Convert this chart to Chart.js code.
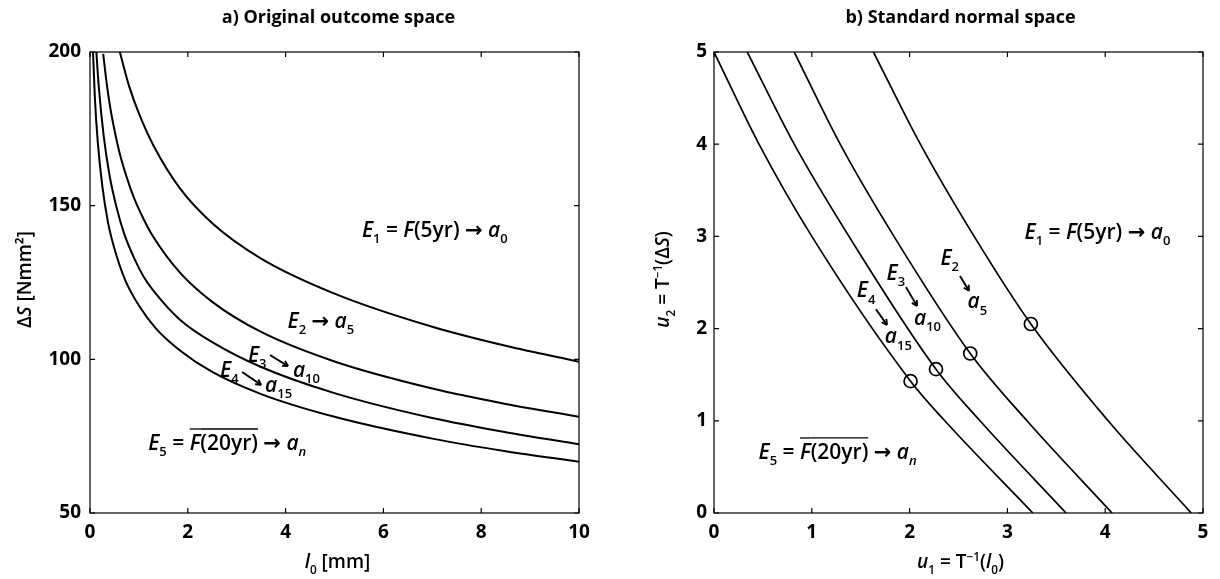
<!DOCTYPE html>
<html>
<head>
<meta charset="utf-8">
<script src="https://cdn.jsdelivr.net/npm/chart.js@4.4.0/dist/chart.umd.min.js"></script>
<style>
  html, body { margin: 0; padding: 0; background: #fff; }
  #wrap { position: relative; width: 1220px; height: 579px; }
  #wrap canvas { position: absolute; top: 0; }
  #left-chart { left: 0; }
  #right-chart { left: 610px; }
</style>
</head>
<body>
<div id="wrap">
  <canvas id="left-chart" width="610" height="579"></canvas>
  <canvas id="right-chart" width="610" height="579"></canvas>
</div>
<script>
// a) original outcome space: l0 [mm] vs dS [Nmm2], one curve per event boundary
const l0Curve1 = [0.61, 0.8, 1.0, 1.3, 1.84, 2.5, 3.5, 5, 7, 8.5, 10];
const dSCurve1 = [200, 188.9, 180, 169.5, 155.6, 144.3, 132.8, 121.4, 110.6, 104.4, 99.2];
const l0Curve2 = [0.27, 0.33, 0.4, 0.5, 0.6, 0.75, 0.9, 1.1, 1.3, 1.84, 2.5, 3.5, 5, 7, 8.5, 10];
const dSCurve2 = [199.4, 191.2, 183.3, 174.6, 167.5, 159.3, 152.5, 145.5, 139.7, 128.2, 118.7, 108.9, 99.3, 90.5, 85.5, 81.3];
const l0Curve3 = [0.13, 0.18, 0.28, 0.4, 0.55, 0.7, 0.9, 1.1, 1.3, 1.84, 2.5, 3.5, 5, 7, 8.5, 10];
const dSCurve3 = [200, 188.6, 172.7, 159.8, 149, 140.8, 133, 126.8, 122.3, 112.9, 105.6, 97.5, 89, 80.9, 76.3, 72.4];
const l0Curve4 = [0.062, 0.1, 0.16, 0.25, 0.37, 0.5, 0.72, 1.0, 1.35, 1.84, 2.5, 3.5, 5, 7, 8.5, 10];
const dSCurve4 = [200, 185, 170.5, 156.6, 144.4, 136, 125.8, 117.5, 110, 102.9, 95.9, 88.7, 81.3, 74.2, 70.1, 66.7];

// b) standard normal space: u1 vs u2
const u1Curve1 = [1.63, 2.11, 2.66, 3.24, 4.03, 4.88];
const u2Curve1 = [5, 4, 3, 2.05, 1, 0];
const u1Curve2 = [0.82, 1.29, 1.84, 2.62, 3.2, 4.07];
const u2Curve2 = [5, 4, 3, 1.73, 1, 0];
const u1Curve3 = [0.34, 0.82, 1.38, 2.27, 2.72, 3.6];
const u2Curve3 = [5, 4, 3, 1.56, 1, 0];
const u1Curve4 = [0, 0.46, 1.0, 2.01, 2.36, 3.26];
const u2Curve4 = [5, 4, 3, 1.43, 1, 0];
// design points (circles)
const u1Points = [3.24, 2.62, 2.27, 2.01];
const u2Points = [2.05, 1.73, 1.56, 1.43];

const leftTicksX = [0, 2, 4, 6, 8, 10];
const leftTicksY = [50, 100, 150, 200];
const rightTicks = [0, 1, 2, 3, 4, 5];

const FONT = '"Open Sans", "DejaVu Sans", sans-serif';

function toXY(xs, ys) {
  return xs.map((x, i) => ({ x: x, y: ys[i] }));
}

function curve(xs, ys, width) {
  return {
    data: toXY(xs, ys),
    showLine: true,
    borderColor: '#000',
    borderWidth: width,
    pointRadius: 0,
    cubicInterpolationMode: 'monotone',
    fill: false
  };
}

// draw a string made of styled pieces (italic, subscript, overline)
function drawRich(ctx, segs, x, y, size, align, weight) {
  let total = 0;
  const parts = segs.map(s => {
    const small = s.sub || s.sup;
    const fs = small ? size * 0.62 : size;
    const font = (s.it ? 'italic ' : '') + weight + ' ' + fs + 'px ' + FONT;
    ctx.font = font;
    const w = ctx.measureText(s.t).width;
    total += w;
    return { s: s, font: font, w: w, dy: s.sub ? size * 0.3 : (s.sup ? -size * 0.38 : 0) };
  });
  let cx = align === 'center' ? x - total / 2 : x;
  parts.forEach(p => {
    ctx.font = p.font;
    ctx.fillText(p.s.t, cx, y + p.dy);
    if (p.s.over) {
      ctx.beginPath();
      ctx.lineWidth = 1.3;
      ctx.moveTo(cx, y - size * 1.0);
      ctx.lineTo(cx + p.w, y - size * 1.0);
      ctx.stroke();
    }
    cx += p.w;
  });
}

function drawArrow(ctx, x1, y1, x2, y2) {
  const ang = Math.atan2(y2 - y1, x2 - x1);
  ctx.beginPath();
  ctx.lineWidth = 1.9;
  ctx.moveTo(x1, y1);
  ctx.lineTo(x2, y2);
  ctx.stroke();
  const h = 6;
  ctx.beginPath();
  ctx.moveTo(x2, y2);
  ctx.lineTo(x2 - h * Math.cos(ang - 0.5), y2 - h * Math.sin(ang - 0.5));
  ctx.moveTo(x2, y2);
  ctx.lineTo(x2 - h * Math.cos(ang + 0.5), y2 - h * Math.sin(ang + 0.5));
  ctx.stroke();
}

const E = n => [{ t: 'E', it: true }, { t: n, sub: true }];
const A = n => [{ t: 'a', it: true }, { t: n, sub: true, it: n === 'n' }];
const ARROW = [{ t: ' \u2192 ' }];
const E1TEXT = [...E('1'), { t: ' = ' }, { t: 'F', it: true }, { t: '(5yr)' }, ...ARROW, ...A('0')];
const E5TEXT = [...E('5'), { t: ' = ' }, { t: 'F', it: true, over: true }, { t: '(20yr)', over: true }, ...ARROW, ...A('n')];

// box with inward ticks on all four sides, titles and text labels
const framePlugin = {
  id: 'frame',
  afterDraw(chart) {
    const ctx = chart.ctx;
    const a = chart.chartArea;
    const xs = chart.scales.x;
    const ys = chart.scales.y;
    const cfg = chart.options.plugins.frame;
    ctx.save();
    ctx.strokeStyle = '#000';
    ctx.fillStyle = '#000';
    ctx.lineWidth = 1.2;
    ctx.strokeRect(a.left, a.top, a.right - a.left, a.bottom - a.top);
    const tl = 5;
    ctx.beginPath();
    xs.ticks.forEach(t => {
      const px = xs.getPixelForValue(t.value);
      ctx.moveTo(px, a.bottom); ctx.lineTo(px, a.bottom - tl);
      ctx.moveTo(px, a.top); ctx.lineTo(px, a.top + tl);
    });
    ys.ticks.forEach(t => {
      const py = ys.getPixelForValue(t.value);
      ctx.moveTo(a.left, py); ctx.lineTo(a.left + tl, py);
      ctx.moveTo(a.right, py); ctx.lineTo(a.right - tl, py);
    });
    ctx.stroke();

    ctx.textBaseline = 'alphabetic';
    const mid = (a.left + a.right) / 2;
    ctx.font = '700 18px ' + FONT;
    ctx.textAlign = 'center';
    ctx.fillText(cfg.title, mid + cfg.titleShift, 23);
    ctx.textAlign = 'left';

    drawRich(ctx, cfg.xTitle, mid + cfg.xTitleShift, 568, 19, 'center', 600);
    ctx.save();
    ctx.translate(cfg.yTitleX, (a.top + a.bottom) / 2 - 3);
    ctx.rotate(-Math.PI / 2);
    drawRich(ctx, cfg.yTitle, 0, 0, 19, 'center', 600);
    ctx.restore();

    cfg.texts.forEach(tx => {
      drawRich(ctx, tx.segs, xs.getPixelForValue(tx.x), ys.getPixelForValue(tx.y), 21, 'left', 600);
    });
    cfg.arrows.forEach(ar => {
      drawArrow(ctx, xs.getPixelForValue(ar[0]), ys.getPixelForValue(ar[1]),
        xs.getPixelForValue(ar[2]), ys.getPixelForValue(ar[3]));
    });
    ctx.restore();
  }
};

function axis(min, max, ticks, boxSize, pad) {
  return {
    type: 'linear',
    min: min,
    max: max,
    afterBuildTicks: s => { s.ticks = ticks.map(v => ({ value: v })); },
    ticks: { color: '#000', padding: pad, font: { family: FONT, size: 19, weight: '700' } },
    grid: { display: false, drawTicks: false },
    border: { display: false },
    afterFit: s => {
      if (s.isHorizontal()) s.height = boxSize; else s.width = boxSize;
    }
  };
}

new Chart(document.getElementById('left-chart'), {
  type: 'scatter',
  data: {
    datasets: [
      curve(l0Curve1, dSCurve1, 2),
      curve(l0Curve2, dSCurve2, 2),
      curve(l0Curve3, dSCurve3, 2),
      curve(l0Curve4, dSCurve4, 2)
    ]
  },
  options: {
    responsive: false,
    animation: false,
    layout: { padding: { top: 52, right: 31, left: 0, bottom: 0 } },
    scales: {
      x: axis(0, 10, leftTicksX, 66, 8),
      y: axis(50, 200, leftTicksY, 90, 9)
    },
    plugins: {
      legend: { display: false },
      tooltip: { enabled: false },
      frame: {
        title: 'a) Original outcome space',
        titleShift: 4,
        xTitle: [{ t: 'l', it: true }, { t: '0', sub: true }, { t: ' [mm]' }],
        xTitleShift: 3,
        yTitle: [{ t: '\u0394' }, { t: 'S', it: true }, { t: ' [Nmm\u00b2]' }],
        yTitleX: 31,
        texts: [
          { segs: E1TEXT, x: 5.56, y: 139.8 },
          { segs: [...E('2'), ...ARROW, ...A('5')], x: 4.04, y: 110.2 },
          { segs: E('3'), x: 3.23, y: 99.1 },
          { segs: A('10'), x: 4.15, y: 94.3 },
          { segs: E('4'), x: 2.66, y: 94.3 },
          { segs: A('15'), x: 3.58, y: 89.4 },
          { segs: E5TEXT, x: 1.19, y: 70.5 }
        ],
        arrows: [
          [3.68, 101.4, 4.05, 97.8],
          [3.11, 95.9, 3.5, 91.7]
        ]
      }
    }
  },
  plugins: [framePlugin]
});

new Chart(document.getElementById('right-chart'), {
  type: 'scatter',
  data: {
    datasets: [
      curve(u1Curve1, u2Curve1, 1.7),
      curve(u1Curve2, u2Curve2, 1.7),
      curve(u1Curve3, u2Curve3, 1.7),
      curve(u1Curve4, u2Curve4, 1.7),
      {
        data: toXY(u1Points, u2Points),
        showLine: false,
        pointStyle: 'circle',
        pointRadius: 6.5,
        pointBorderWidth: 1.7,
        pointBorderColor: '#000',
        pointBackgroundColor: 'rgba(0,0,0,0)'
      }
    ]
  },
  options: {
    responsive: false,
    animation: false,
    layout: { padding: { top: 52, right: 17, left: 0, bottom: 0 } },
    scales: {
      x: axis(0, 5, rightTicks, 66, 8),
      y: axis(0, 5, rightTicks, 104, 7)
    },
    plugins: {
      legend: { display: false },
      tooltip: { enabled: false },
      frame: {
        title: 'b) Standard normal space',
        titleShift: 2,
        xTitle: [{ t: 'u', it: true }, { t: '1', sub: true }, { t: ' = T' }, { t: '\u22121', sup: true },
          { t: '(' }, { t: 'l', it: true }, { t: '0', sub: true }, { t: ')' }],
        xTitleShift: 2,
        yTitle: [{ t: 'u', it: true }, { t: '2', sub: true }, { t: ' = T' }, { t: '\u22121', sup: true },
          { t: '(\u0394' }, { t: 'S', it: true }, { t: ')' }],
        yTitleX: 59,
        texts: [
          { segs: E1TEXT, x: 3.175, y: 2.97 },
          { segs: E('2'), x: 2.316, y: 2.69 },
          { segs: A('5'), x: 2.593, y: 2.22 },
          { segs: E('3'), x: 1.764, y: 2.53 },
          { segs: A('10'), x: 2.045, y: 2.04 },
          { segs: E('4'), x: 1.46, y: 2.34 },
          { segs: A('15'), x: 1.746, y: 1.84 },
          { segs: E5TEXT, x: 0.456, y: 0.586 }
        ],
        arrows: [
          [2.515, 2.57, 2.607, 2.41],
          [1.963, 2.45, 2.076, 2.245],
          [1.656, 2.21, 1.769, 2.04]
        ]
      }
    }
  },
  plugins: [framePlugin]
});
</script>
</body>
</html>
